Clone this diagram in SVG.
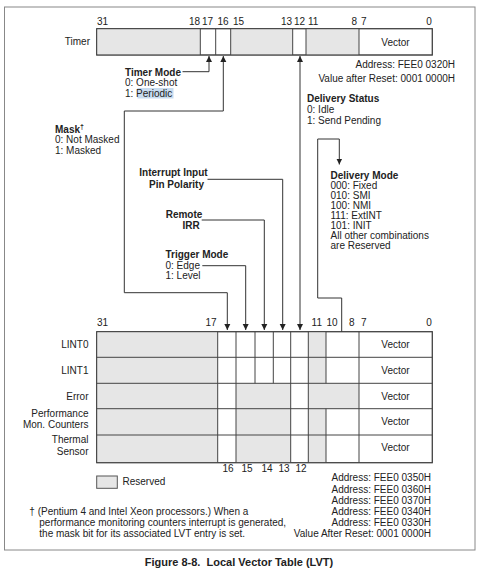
<svg xmlns="http://www.w3.org/2000/svg" width="480" height="571" viewBox="0 0 480 571">
<style>
text{font-family:"Liberation Sans",Arial,sans-serif;font-size:10px;fill:#222}
.b{font-weight:bold}
.e{text-anchor:end}
.m{text-anchor:middle}
.reg{fill:#fff;stroke:#444;stroke-width:1}
.sh{fill:#e6e6e6;stroke:none}
.dv{stroke:#444;stroke-width:1;fill:none}
.ln{stroke:#333;stroke-width:1;fill:none}
</style>
<defs>
<marker id="ah" viewBox="0 0 6 8" refX="6" refY="4" markerWidth="6" markerHeight="8" markerUnits="userSpaceOnUse" orient="auto">
<path d="M0,1 L6,4 L0,7 Z" fill="#222"/>
</marker>
<marker id="as" viewBox="0 0 6 8" refX="0" refY="4" markerWidth="6" markerHeight="8" markerUnits="userSpaceOnUse" orient="auto">
<path d="M6,1 L0,4 L6,7 Z" fill="#222"/>
</marker>
</defs>
<rect x="0" y="0" width="480" height="571" fill="#fff"/>
<rect x="4.5" y="7" width="470.5" height="543" fill="#fff" stroke="#888" stroke-width="1"/>

<g id="timer">
<rect x="96.7" y="28.7" width="335.6" height="26.3" class="reg"/>
<rect x="97.2" y="29.2" width="103.1" height="25.3" class="sh"/>
<rect x="230.7" y="29.2" width="62" height="25.3" class="sh"/>
<rect x="306" y="29.2" width="53" height="25.3" class="sh"/>
<path class="dv" d="M200.3,28.7V55M215.7,28.7V55M230.7,28.7V55M292.7,28.7V55M306,28.7V55M359,28.7V55"/>
<rect x="96.7" y="28.7" width="335.6" height="26.3" fill="none" stroke="#444"/>
<text x="90" y="45" class="e">Timer</text>
<text x="395.5" y="45.5" class="m">Vector</text>
<text x="97" y="25">31</text>
<text x="200" y="25" class="e">18</text>
<text x="202" y="25">17</text>
<text x="223" y="25" class="m">16</text>
<text x="233" y="25">15</text>
<text x="292" y="25" class="e">13</text>
<text x="294" y="25">12</text>
<text x="308" y="25">11</text>
<text x="357" y="25" class="e">8</text>
<text x="361" y="25">7</text>
<text x="429" y="25" class="m">0</text>
<text x="455" y="68" class="e">Address: FEE0 0320H</text>
<text x="455" y="81.5" class="e">Value after Reset: 0001 0000H</text>
</g>

<g id="lvt">
<rect x="96.7" y="331.7" width="335.6" height="131" class="reg"/>
<rect x="97.2" y="332.2" width="120.5" height="130" class="sh"/>
<rect x="308.3" y="332.2" width="17.7" height="130" class="sh"/>
<rect x="236" y="383.3" width="54.7" height="79" class="sh"/>
<rect x="326" y="383.3" width="33" height="25.4" class="sh"/>
<path class="dv" d="M96.7,357.3H432.3M96.7,383.3H432.3M96.7,408.7H432.3M96.7,435H432.3"/>
<path class="dv" d="M217.7,331.7V462.7M236,331.7V462.7M290.7,331.7V462.7M308.3,331.7V462.7M359,331.7V462.7M255,331.7V383.3M273.3,331.7V383.3M326,331.7V383.3M326,408.7V462.7"/>
<rect x="96.7" y="331.7" width="335.6" height="131" fill="none" stroke="#444"/>
<text x="88.5" y="347.5" class="e">LINT0</text>
<text x="88.5" y="373.5" class="e">LINT1</text>
<text x="88.5" y="399.5" class="e">Error</text>
<text x="88.5" y="416.7" class="e">Performance</text>
<text x="88.5" y="428.3" class="e">Mon. Counters</text>
<text x="88.5" y="443.3" class="e">Thermal</text>
<text x="88.5" y="454.5" class="e">Sensor</text>
<text x="395.5" y="348" class="m">Vector</text>
<text x="395.5" y="374" class="m">Vector</text>
<text x="395.5" y="399.5" class="m">Vector</text>
<text x="395.5" y="425" class="m">Vector</text>
<text x="395.5" y="451" class="m">Vector</text>
<text x="97" y="326">31</text>
<text x="216.5" y="326" class="e">17</text>
<text x="322" y="326" class="e">11</text>
<text x="326.5" y="326">10</text>
<text x="354.5" y="326" class="e">8</text>
<text x="361" y="326">7</text>
<text x="429" y="326" class="m">0</text>
<text x="228" y="471.5" class="m">16</text>
<text x="247" y="471.5" class="m">15</text>
<text x="267" y="471.5" class="m">14</text>
<text x="284" y="471.5" class="m">13</text>
<text x="301" y="471.5" class="m">12</text>
</g>

<g id="timer-mode">
<text x="125" y="75.5" class="b">Timer Mode</text>
<text x="125" y="86">0: One-shot</text>
<rect x="137.5" y="88" width="36" height="10.5" fill="#c8dcf0"/>
<text x="125" y="96.5">1: Periodic</text>
</g>
<g id="delivery-status">
<text x="307" y="102" class="b">Delivery Status</text>
<text x="307" y="112.5">0: Idle</text>
<text x="307" y="123.5">1: Send Pending</text>
</g>
<g id="mask">
<text x="55" y="132.5" class="b">Mask<tspan font-size="7" dy="-4">†</tspan></text>
<text x="55" y="143">0: Not Masked</text>
<text x="55" y="153.5">1: Masked</text>
</g>
<g id="polarity">
<text x="173.5" y="176" class="b m">Interrupt Input</text>
<text x="176.5" y="187.5" class="b m">Pin Polarity</text>
</g>
<g id="remote-irr">
<text x="184" y="217.5" class="b m">Remote</text>
<text x="191" y="229" class="b m">IRR</text>
</g>
<g id="trigger-mode">
<text x="165.5" y="258" class="b">Trigger Mode</text>
<text x="165.5" y="268.5">0: Edge</text>
<text x="165.5" y="278.5">1: Level</text>
</g>
<g id="delivery-mode">
<text x="330.5" y="178.5" class="b">Delivery Mode</text>
<text x="330.5" y="188.5">000: Fixed</text>
<text x="330.5" y="199">010: SMI</text>
<text x="330.5" y="209.3">100: NMI</text>
<text x="330.5" y="219.3">111: ExtINT</text>
<text x="330.5" y="229">101: INIT</text>
<text x="330.5" y="238.5">All other combinations</text>
<text x="330.5" y="248.5">are Reserved</text>
</g>

<g id="connectors">
<path class="ln" d="M182.5,71.7H209V56" marker-end="url(#ah)"/>
<path class="ln" d="M227.3,292.7H124.3V111H223.3V56" marker-end="url(#ah)"/>
<path class="ln" d="M227.3,292.7V330" marker-end="url(#ah)"/>
<path class="ln" d="M202.3,265.7H245.7V330" marker-end="url(#ah)"/>
<path class="ln" d="M201.7,220H264.3V330" marker-end="url(#ah)"/>
<path class="ln" d="M207.5,179.3H282.7V330" marker-end="url(#ah)"/>
<path class="ln" d="M300,56V330" marker-start="url(#as)" marker-end="url(#ah)"/>
<path class="ln" d="M341.7,331.7V298H317.7V139H339.3V164.5" marker-end="url(#ah)"/>
</g>

<g id="legend">
<rect x="96.7" y="476" width="20.6" height="12.3" fill="#e6e6e6" stroke="#555"/>
<text x="122.5" y="484.5">Reserved</text>
</g>
<g id="addresses">
<text x="431" y="481" class="e">Address: FEE0 0350H</text>
<text x="431" y="492.5" class="e">Address: FEE0 0360H</text>
<text x="431" y="504" class="e">Address: FEE0 0370H</text>
<text x="431" y="515" class="e">Address: FEE0 0340H</text>
<text x="431" y="526" class="e">Address: FEE0 0330H</text>
<text x="431" y="537" class="e">Value After Reset: 0001 0000H</text>
</g>
<g id="footnote">
<text x="29.3" y="515">† (Pentium 4 and Intel Xeon processors.) When a</text>
<text x="39.3" y="526">performance monitoring counters interrupt is generated,</text>
<text x="39.3" y="537">the mask bit for its associated LVT entry is set.</text>
</g>
<text x="239" y="566" class="b m" style="font-size:11px">Figure 8-8.&#160; Local Vector Table (LVT)</text>
</svg>
